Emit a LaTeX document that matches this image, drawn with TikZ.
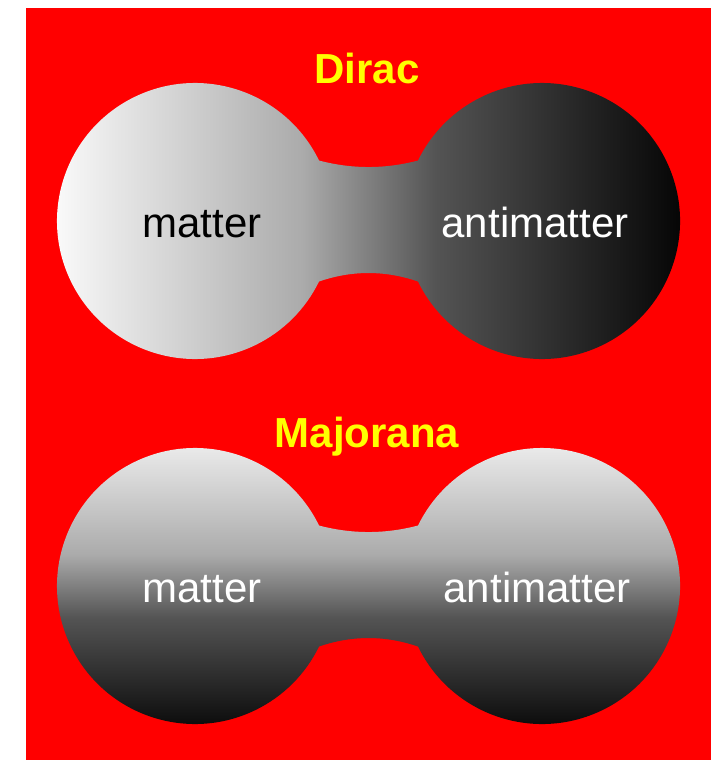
\documentclass[tikz,border=0pt]{standalone}
\usepackage{fontspec}
\setmainfont{Liberation Sans}
\usepackage{tikz}
\definecolor{bgred}{HTML}{FF0000}
\definecolor{headyellow}{HTML}{FFFF00}
\pgfdeclarehorizontalshading{diracfade}{100bp}{%
	color(0bp)=(white); color(25bp)=(white); color(45bp)=(white!67!black);
	color(55bp)=(white!33!black); color(75bp)=(black); color(100bp)=(black)}
\pgfdeclareverticalshading{majoranafade}{100bp}{%
	color(0bp)=(black); color(25bp)=(black); color(45bp)=(white!33!black);
	color(55bp)=(white!67!black); color(75bp)=(white!96!black); color(100bp)=(white!96!black)}

\begin{document}
\begin{tikzpicture}[
		x=1pt, y=-1pt,
		headline/.style={anchor=base, color=headyellow, font=\fontsize{42}{50}\selectfont\bfseries},
		parttext/.style={anchor=base, font=\fontsize{42}{50}\selectfont},
		diracshade/.style={shading=diracfade},
		majoranashade/.style={shading=majoranafade}
	]
	\useasboundingbox (0,0) rectangle (711,760);
	\fill[color=bgred] (26,8) rectangle (711,760);
	
	% two dumbbells, one per row
	\foreach \yc/\shadename in {221/diracshade, 586/majoranashade}{
		\begin{scope}[shift={(0,\yc)}]
			\shade[\shadename]
				(195,0) ++(-26:138) arc (-26:-334:138)
				.. controls (352,49.2) and (385,49.2) .. (418,60.5)
				arc (154:-154:138)
				.. controls (385,-51.8) and (352,-51.8) .. (319,-60.5) -- cycle;
		\end{scope}
	}
	
	\node[headline] (dirac) at (367,83) {Dirac};
	\node[parttext, color=black] (diracmatter) at (202,237) {matter};
	\node[parttext, color=white] (diracanti) at (535,237) {antimatter};
	
	\node[headline] (majorana) at (367,447) {Majorana};
	\node[parttext, color=white] (majmatter) at (202,602) {matter};
	\node[parttext, color=white] (majanti) at (537,602) {antimatter};
\end{tikzpicture}
\end{document}
